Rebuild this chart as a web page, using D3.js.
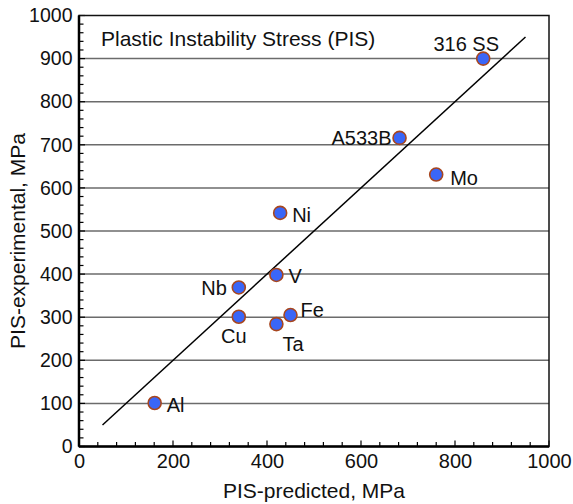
<!DOCTYPE html>
<html>
<head>
<meta charset="utf-8">
<script src="https://cdn.jsdelivr.net/npm/d3@7"></script>
<style>
  html, body { margin: 0; padding: 0; background: #fff; }
  svg text { font-family: "Liberation Sans", Arial, sans-serif; fill: #111; }
</style>
</head>
<body>
<svg id="chart" width="573" height="504"></svg>
<script>
// ---- data ----
const materials = ["Al", "Nb", "Cu", "V", "Fe", "Ta", "Ni", "316 SS", "A533B", "Mo"];
const predicted = [161, 340, 340, 420, 450, 420, 428, 860, 682, 760];
const experimental = [101, 369, 301, 398, 305, 284, 542, 900, 716, 631];
const fitLineX = [50, 950];
const fitLineY = [50, 950];
const xTicks = [0, 200, 400, 600, 800, 1000];
const yTicks = [0, 100, 200, 300, 400, 500, 600, 700, 800, 900, 1000];
const chartTitle = "Plastic Instability Stress (PIS)";
const xTitle = "PIS-predicted, MPa";
const yTitle = "PIS-experimental, MPa";

// label placement (styling): [anchor, dx, dy]
const labelPlace = {
  "Al": ["start", 12, 9],
  "Nb": ["end", -12, 8],
  "Cu": ["middle", -5, 26],
  "V": ["start", 12, 8],
  "Fe": ["start", 10, 2],
  "Ta": ["start", 6, 27],
  "Ni": ["start", 12, 9],
  "316 SS": ["middle", -17, -8],
  "A533B": ["end", -8, 7],
  "Mo": ["start", 14, 10]
};

const svg = d3.select("#chart");
const margin = { left: 79, right: 24, top: 15.5, bottom: 57.5 };
const W = 573, H = 504;
const x = d3.scaleLinear().domain([0, 1000]).range([margin.left, W - margin.right]);
const y = d3.scaleLinear().domain([0, 1000]).range([H - margin.bottom, margin.top]);
const fmt = d3.format("d");

// gridlines
svg.append("g").selectAll("line").data(yTicks.filter(d => d > 0 && d < 1000)).join("line")
  .attr("x1", x(0)).attr("x2", x(1000))
  .attr("y1", d => y(d)).attr("y2", d => y(d))
  .attr("stroke", "#6b6b6b").attr("stroke-width", 1.5);

// minor ticks
const xMinor = d3.range(0, 1001, 40);
const yMinor = d3.range(0, 1001, 20);
svg.append("g").selectAll("line").data(xMinor).join("line")
  .attr("x1", d => x(d)).attr("x2", d => x(d))
  .attr("y1", y(0)).attr("y2", d => y(0) - (d % 200 === 0 ? 6 : 4.5))
  .attr("stroke", "#000").attr("stroke-width", 1.2);
svg.append("g").selectAll("line").data(yMinor).join("line")
  .attr("y1", d => y(d)).attr("y2", d => y(d))
  .attr("x1", x(0)).attr("x2", d => x(0) + (d % 100 === 0 ? 6 : 4.5))
  .attr("stroke", "#000").attr("stroke-width", 1.2);

// axes with labels only
const xAxis = d3.axisBottom(x).tickValues(xTicks).tickFormat(fmt).tickSize(0).tickPadding(7.5);
const gx = svg.append("g").attr("transform", `translate(0,${y(0)})`).call(xAxis);
gx.select(".domain").remove();
gx.selectAll("text").attr("font-size", 20).attr("font-family", "Liberation Sans, Arial, sans-serif").attr("fill", "#111");

const yAxis = d3.axisLeft(y).tickValues(yTicks).tickFormat(fmt).tickSize(0).tickPadding(6.5);
const gy = svg.append("g").attr("transform", `translate(${x(0)},0)`).call(yAxis);
gy.select(".domain").remove();
gy.selectAll("text").attr("font-size", 19.5).attr("font-family", "Liberation Sans, Arial, sans-serif").attr("fill", "#111");

// frame
svg.append("rect")
  .attr("x", x(0)).attr("y", y(1000))
  .attr("width", x(1000) - x(0)).attr("height", y(0) - y(1000))
  .attr("fill", "none").attr("stroke", "#111").attr("stroke-width", 1.5);
svg.append("line").attr("x1", x(0)).attr("x2", x(1000)).attr("y1", y(0)).attr("y2", y(0))
  .attr("stroke", "#000").attr("stroke-width", 2.5);
svg.append("line").attr("x1", x(0)).attr("x2", x(0)).attr("y1", y(0)).attr("y2", y(1000))
  .attr("stroke", "#000").attr("stroke-width", 2.5);

// fit line
svg.append("line")
  .attr("x1", x(fitLineX[0])).attr("y1", y(fitLineY[0]))
  .attr("x2", x(fitLineX[1])).attr("y2", y(fitLineY[1]))
  .attr("stroke", "#000").attr("stroke-width", 1.5);

// points
const pts = materials.map((m, i) => ({ m, px: predicted[i], ey: experimental[i] }));
svg.append("g").selectAll("circle").data(pts).join("circle")
  .attr("cx", d => x(d.px)).attr("cy", d => y(d.ey)).attr("r", 6.5)
  .attr("fill", "#3a66f7").attr("stroke", "#a8461e").attr("stroke-width", 1.6);

svg.append("g").selectAll("text").data(pts).join("text")
  .attr("x", d => x(d.px) + labelPlace[d.m][1])
  .attr("y", d => y(d.ey) + labelPlace[d.m][2])
  .attr("text-anchor", d => labelPlace[d.m][0])
  .attr("font-size", 20)
  .text(d => d.m);

// title inside plot
svg.append("text").attr("x", 101).attr("y", 46).attr("font-size", 21).text(chartTitle);

// axis titles
svg.append("text").attr("x", x(500)).attr("y", 498).attr("text-anchor", "middle")
  .attr("font-size", 21).text(xTitle);
svg.append("text").attr("transform", `translate(25,241) rotate(-90)`)
  .attr("text-anchor", "middle").attr("font-size", 21).text(yTitle);
</script>
</body>
</html>
